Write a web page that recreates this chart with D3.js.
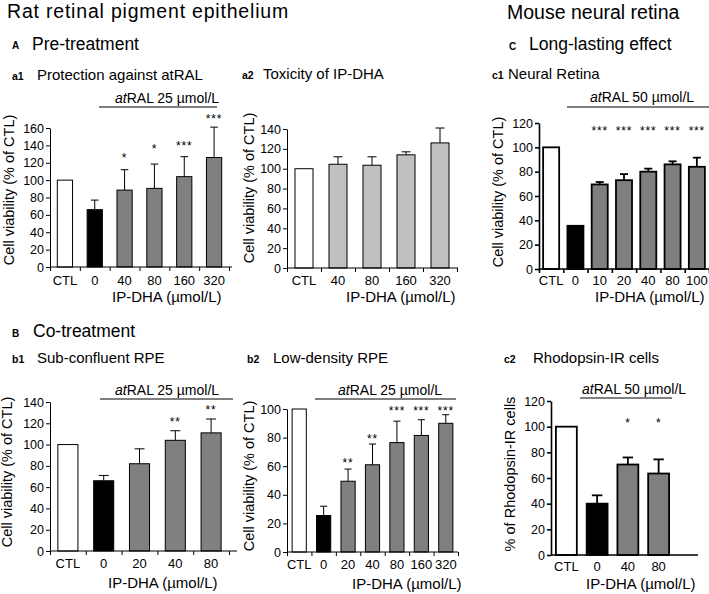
<!DOCTYPE html>
<html><head><meta charset="utf-8">
<script src="https://cdn.jsdelivr.net/npm/d3@7"></script>
<style>
body{margin:0;background:#fff}
svg{display:block}
text{font-family:"Liberation Sans",Arial,Helvetica,sans-serif;fill:#000}
</style>
</head><body>
<svg id="chart" width="709" height="594"></svg>
<script>
// ---------------- DATA ----------------
const a1Categories = ["CTL","0","40","80","160","320"];
const a1Values     = [100, 66, 88.5, 90.5, 104, 126];
const a1Errors     = [0, 11, 23.5, 28, 23, 35];
const a1Stars      = ["","","*","*","***","***"];
const a1StarLevels = [null,null,129,139,143,174];
const a1YTicks     = [0,20,40,60,80,100,120,140,160];

const a2Categories = ["CTL","40","80","160","320"];
const a2Values     = [100, 104.5, 103.5, 114, 126];
const a2Errors     = [0, 7.5, 8.5, 3, 15];
const a2Stars      = ["","","","",""];
const a2StarLevels = [null,null,null,null,null];
const a2YTicks     = [0,20,40,60,80,100,120,140];

const c1Categories = ["CTL","0","10","20","40","80","100"];
const c1Values     = [100, 35.5, 69.5, 73, 80, 86, 84];
const c1Errors     = [0, 0, 2, 5, 2.5, 2.5, 7.5];
const c1Stars      = ["","","***","***","***","***","***"];
const c1StarLevels = [null,null,116,116,116,116,116];
const c1YTicks     = [0,20,40,60,80,100,120];

const b1Categories = ["CTL","0","20","40","80"];
const b1Values     = [100, 66, 82, 104, 111];
const b1Errors     = [0, 5, 14, 9, 13];
const b1Stars      = ["","","","**","**"];
const b1StarLevels = [null,null,null,124,135];
const b1YTicks     = [0,20,40,60,80,100,120,140];

const b2Categories = ["CTL","0","20","40","80","160","320"];
const b2Values     = [100, 25.5, 49.5, 61, 76.5, 81.5, 90];
const b2Errors     = [0, 6.5, 8.5, 14.5, 15, 11, 6];
const b2Stars      = ["","","**","**","***","***","***"];
const b2StarLevels = [null,null,64,81,101,101,101];
const b2YTicks     = [0,20,40,60,80,100];

const c2Categories = ["CTL","0","40","80"];
const c2Values     = [100, 40, 70.5, 63.5];
const c2Errors     = [0, 6.5, 5.5, 11];
const c2Stars      = ["","","*","*"];
const c2StarLevels = [null,null,105,105];
const c2YTicks     = [0,20,40,60,80,100,120];

const xAxisTitle = "IP-DHA (µmol/L)";
const viabilityTitle = "Cell viability (% of CTL)";
const rhodopsinTitle = "% of Rhodopsin-IR cells";

// ---------------- DRAWING ----------------
const svg = d3.select("#chart");
const FONT = '"Liberation Sans",Arial,Helvetica,sans-serif';

function txt(x, y, s, size, opts = {}) {
  const t = svg.append("text").attr("x", x).attr("y", y)
    .style("font-size", size + "px").text(s);
  if (opts.bold) t.style("font-weight", "bold");
  if (opts.anchor) t.attr("text-anchor", opts.anchor);
  if (opts.ls) t.style("letter-spacing", opts.ls + "px");
  return t;
}

// Headings
txt(7, 18, "Rat retinal pigment epithelium", 19.5, {ls: 0.8});
txt(507, 19, "Mouse neural retina", 19.5);
txt(12, 49, "A", 10, {bold: true});
txt(32, 50, "Pre-treatment", 17.5);
txt(12, 337, "B", 10, {bold: true});
txt(33, 337, "Co-treatment", 17.5);
txt(509, 50, "C", 10, {bold: true});
txt(529, 50, "Long-lasting effect", 17.5);

function drawPanel(p) {
  const n = p.cats.length;
  const g = svg.append("g");
  const x = d3.scaleBand().domain(p.cats).range(p.xRange)
    .paddingInner(p.pad).paddingOuter(p.pad / 2);
  const y = d3.scaleLinear().domain([0, p.yMax]).range(p.yRange);

  // panel title
  txt(p.tagX, p.titleY, p.tag, 10.5, {bold: true});
  txt(p.titleX, p.titleY, p.title, 15);

  // bars
  g.selectAll("rect.bar").data(p.cats).join("rect").attr("class", "bar")
    .attr("x", d => x(d)).attr("width", x.bandwidth())
    .attr("y", (d, i) => y(p.vals[i]))
    .attr("height", (d, i) => y(0) - y(p.vals[i]))
    .attr("fill", d => d === "CTL" ? "#ffffff" : (d === "0" ? "#000000" : p.gray))
    .attr("stroke", "#000").attr("stroke-width", p.sw);

  // error bars (upper only)
  const eb = g.selectAll("g.eb").data(p.cats.map((c, i) => ({c, v: p.vals[i], e: p.errs[i]})).filter(d => d.e > 0))
    .join("g").attr("class", "eb");
  eb.append("line")
    .attr("x1", d => x(d.c) + x.bandwidth() / 2).attr("x2", d => x(d.c) + x.bandwidth() / 2)
    .attr("y1", d => y(d.v)).attr("y2", d => y(d.v + d.e))
    .attr("stroke", "#000").attr("stroke-width", p.sw);
  eb.append("line")
    .attr("x1", d => x(d.c) + x.bandwidth() * 0.25).attr("x2", d => x(d.c) + x.bandwidth() * 0.75)
    .attr("y1", d => y(d.v + d.e)).attr("y2", d => y(d.v + d.e))
    .attr("stroke", "#000").attr("stroke-width", p.sw);

  // significance stars
  g.selectAll("text.star").data(p.cats.map((c, i) => ({c, s: p.stars[i], l: p.starLevels[i]})).filter(d => d.s))
    .join("text").attr("class", "star")
    .attr("x", d => x(d.c) + x.bandwidth() / 2)
    .attr("y", d => y(d.l) + 7)
    .attr("text-anchor", "middle")
    .style("font-size", "12px").style("letter-spacing", "0.8px")
    .text(d => d.s);

  // y axis
  const ya = g.append("g").attr("transform", `translate(${p.axisX},0)`)
    .call(d3.axisLeft(y).tickValues(p.yTicks).tickSize(4).tickSizeOuter(0).tickPadding(2));
  ya.selectAll("text").style("font-size", "12.5px").style("font-family", FONT).attr("fill", "#000");
  ya.selectAll("line,path").attr("stroke", "#000").attr("stroke-width", p.aw);

  // x axis baseline + tick labels
  const xa = g.append("g").attr("transform", `translate(0,${y(0)})`)
    .call(d3.axisBottom(x).tickSize(0).tickPadding(0));
  xa.select(".domain").remove();
  xa.selectAll("text").attr("y", p.labelDy).attr("dy", "0")
    .style("font-size", "13px").style("font-family", FONT).attr("fill", "#000");
  g.append("line").attr("x1", p.axisX).attr("x2", p.axisEnd)
    .attr("y1", y(0)).attr("y2", y(0)).attr("stroke", "#000").attr("stroke-width", p.aw);
  if (p.xTicks) {
    const xb = d3.scaleLinear().domain([0, n]).range(p.xRange);
    const bt = g.append("g").attr("transform", `translate(0,${y(0)})`)
      .call(d3.axisBottom(xb).ticks(n).tickSize(4).tickFormat(""));
    bt.select(".domain").remove();
    bt.selectAll("line").attr("stroke", "#000").attr("stroke-width", p.aw);
  }

  // axis titles
  txt(p.xTitleX, p.xTitleY, xAxisTitle, 15);
  svg.append("text")
    .attr("transform", `translate(${p.yTitleX},${p.yTitleY}) rotate(-90)`)
    .attr("text-anchor", "middle").style("font-size", "14.5px").text(p.yTitle);

  // treatment label
  if (p.treat) {
    const t = svg.append("text").attr("x", p.treat.x).attr("y", p.treat.y).style("font-size", "14px");
    t.append("tspan").style("font-style", "italic").text("at");
    t.append("tspan").text(p.treat.text);
    svg.append("line").attr("x1", p.treat.l0).attr("x2", p.treat.l1)
      .attr("y1", p.treat.ly).attr("y2", p.treat.ly).attr("stroke", "#000").attr("stroke-width", 1.2);
  }
}

drawPanel({cats: a1Categories, vals: a1Values, errs: a1Errors, stars: a1Stars, starLevels: a1StarLevels, yTicks: a1YTicks,
  yMax: 160, yRange: [267, 128], xRange: [50, 229], axisX: 50, axisEnd: 232, pad: 0.49,
  gray: "#808080", sw: 1, aw: 1, xTicks: true, labelDy: 18,
  tag: "a1", tagX: 12, title: "Protection against atRAL", titleX: 37, titleY: 80,
  xTitleX: 112, xTitleY: 302, yTitle: viabilityTitle, yTitleX: 14, yTitleY: 190,
  treat: {text: "RAL 25 µmol/L", x: 115, y: 103, l0: 99, l1: 217, ly: 107}});

drawPanel({cats: a2Categories, vals: a2Values, errs: a2Errors, stars: a2Stars, starLevels: a2StarLevels, yTicks: a2YTicks,
  yMax: 140, yRange: [268, 129], xRange: [287, 457], axisX: 287, axisEnd: 458, pad: 0.47,
  gray: "#c0c0c0", sw: 1, aw: 1, xTicks: true, labelDy: 17,
  tag: "a2", tagX: 242, title: "Toxicity of IP-DHA", titleX: 263, titleY: 79,
  xTitleX: 346, xTitleY: 302, yTitle: viabilityTitle, yTitleX: 254, yTitleY: 188,
  treat: null});

drawPanel({cats: c1Categories, vals: c1Values, errs: c1Errors, stars: c1Stars, starLevels: c1StarLevels, yTicks: c1YTicks,
  yMax: 120, yRange: [269, 123], xRange: [539, 709], axisX: 539, axisEnd: 709, pad: 0.34,
  gray: "#7f7f7f", sw: 1.8, aw: 1.6, xTicks: true, labelDy: 16,
  tag: "c1", tagX: 492, title: "Neural Retina", titleX: 508, titleY: 79,
  xTitleX: 595, xTitleY: 302, yTitle: viabilityTitle, yTitleX: 503, yTitleY: 192,
  treat: {text: "RAL 50 µmol/L", x: 590, y: 102, l0: 567, l1: 709, ly: 107}});

drawPanel({cats: b1Categories, vals: b1Values, errs: b1Errors, stars: b1Stars, starLevels: b1StarLevels, yTicks: b1YTicks,
  yMax: 140, yRange: [551, 402], xRange: [50, 229], axisX: 50, axisEnd: 237, pad: 0.44,
  gray: "#808080", sw: 1, aw: 1, xTicks: true, labelDy: 17,
  tag: "b1", tagX: 12, title: "Sub-confluent RPE", titleX: 37, titleY: 363,
  xTitleX: 108, xTitleY: 588, yTitle: viabilityTitle, yTitleX: 12, yTitleY: 472,
  treat: {text: "RAL 25 µmol/L", x: 115, y: 395, l0: 100, l1: 233, ly: 399}});

drawPanel({cats: b2Categories, vals: b2Values, errs: b2Errors, stars: b2Stars, starLevels: b2StarLevels, yTicks: b2YTicks,
  yMax: 100, yRange: [552, 409], xRange: [287, 458], axisX: 287, axisEnd: 458, pad: 0.42,
  gray: "#808080", sw: 1, aw: 1, xTicks: true, labelDy: 17,
  tag: "b2", tagX: 247, title: "Low-density RPE", titleX: 273, titleY: 363,
  xTitleX: 352, xTitleY: 589, yTitle: viabilityTitle, yTitleX: 254, yTitleY: 476,
  treat: {text: "RAL 25 µmol/L", x: 338, y: 395, l0: 315, l1: 456, ly: 399}});

drawPanel({cats: c2Categories, vals: c2Values, errs: c2Errors, stars: c2Stars, starLevels: c2StarLevels, yTicks: c2YTicks,
  yMax: 120, yRange: [555, 401], xRange: [551, 674], axisX: 551, axisEnd: 698, pad: 0.32,
  gray: "#7f7f7f", sw: 1.8, aw: 1.6, xTicks: false, labelDy: 16,
  tag: "c2", tagX: 504, title: "Rhodopsin-IR cells", titleX: 533, titleY: 363,
  xTitleX: 586, xTitleY: 589, yTitle: rhodopsinTitle, yTitleX: 515, yTitleY: 474,
  treat: {text: "RAL 50 µmol/L", x: 582, y: 394, l0: 580, l1: 672, ly: 398}});
</script>
</body></html>
